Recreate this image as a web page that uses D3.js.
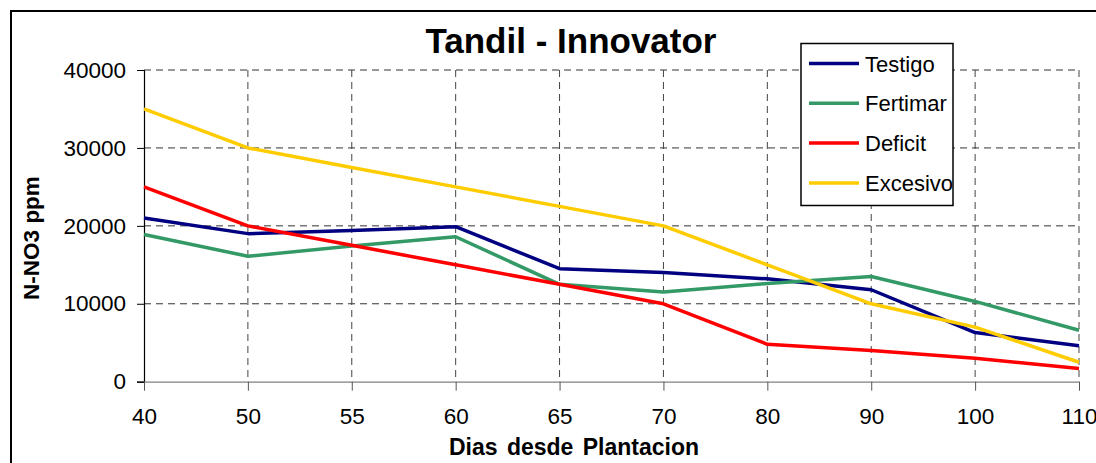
<!DOCTYPE html>
<html>
<head>
<meta charset="utf-8">
<script src="https://cdn.jsdelivr.net/npm/d3@7"></script>
<style>
  body { margin: 0; background: #fff; }
  svg text { font-family: Arial, "Liberation Sans", sans-serif; }
</style>
</head>
<body>
<div id="chart"></div>
<script>
// data
const dias = ['40', '50', '55', '60', '65', '70', '80', '90', '100', '110'];
const testigo = [21000, 19000, 19400, 19900, 14500, 14000, 13200, 11800, 6300, 4600];
const fertimar = [18900, 16100, 17400, 18600, 12500, 11500, 12600, 13500, 10300, 6600];
const deficit = [25000, 20000, 17500, 15000, 12500, 10000, 4800, 4000, 3000, 1700];
const excesivo = [35000, 30000, 27500, 25000, 22500, 20000, 15000, 10000, 7000, 2500];
const yTicks = [0, 10000, 20000, 30000, 40000];

const series = [
    { name: 'Testigo', values: testigo, color: '#000080' },
    { name: 'Fertimar', values: fertimar, color: '#339966' },
    { name: 'Deficit', values: deficit, color: '#ff0000' },
    { name: 'Excesivo', values: excesivo, color: '#ffcc00' }
];

const width = 1096, height = 463;
const svg = d3.select('#chart')
    .append('svg')
    .attr('width', width)
    .attr('height', height);

// outer chart frame (right/bottom edges fall outside the picture)
svg.append('rect')
    .attr('x', 11).attr('y', 11)
    .attr('width', 1100).attr('height', 470)
    .attr('fill', 'none')
    .attr('stroke', '#000')
    .attr('stroke-width', 2);

const xScale = d3.scalePoint()
    .domain(dias)
    .range([144, 1079]);

const yScale = d3.scaleLinear()
    .domain([0, 40000])
    .range([381.7, 70]);

// grid
svg.append('g')
    .selectAll('line')
    .data(yTicks.filter(d => d > 0))
    .enter()
    .append('line')
    .attr('x1', 144).attr('x2', 1079)
    .attr('y1', d => yScale(d)).attr('y2', d => yScale(d))
    .attr('stroke', '#333')
    .attr('stroke-dasharray', '7,5');

svg.append('g')
    .selectAll('line')
    .data(dias.slice(1))
    .enter()
    .append('line')
    .attr('x1', d => xScale(d)).attr('x2', d => xScale(d))
    .attr('y1', yScale(40000)).attr('y2', yScale(0))
    .attr('stroke', '#444')
    .attr('stroke-dasharray', '7,5');

// y axis
const yAxis = svg.append('g')
    .attr('transform', 'translate(144, 0)')
    .call(d3.axisLeft(yScale).tickValues(yTicks).tickSize(7).tickPadding(11).tickFormat(d3.format('d')));
yAxis.select('.domain').attr('stroke', '#000').attr('stroke-width', 1.2);
yAxis.selectAll('.tick line').attr('stroke', '#000');
yAxis.selectAll('text')
    .attr('font-size', 22.5)
    .attr('font-family', 'Arial, "Liberation Sans", sans-serif')
    .attr('fill', '#000');

// x axis
const xAxis = svg.append('g')
    .attr('transform', `translate(0, ${yScale(0)})`)
    .call(d3.axisBottom(xScale).tickSize(9).tickPadding(17).tickSizeOuter(0));
xAxis.select('.domain').attr('stroke', '#808080').attr('stroke-width', 1.2);
xAxis.selectAll('.tick line').attr('stroke', '#555');
xAxis.selectAll('text')
    .attr('font-size', 22.5)
    .attr('font-family', 'Arial, "Liberation Sans", sans-serif')
    .attr('fill', '#000');

// lines
const line = d3.line()
    .x((d, i) => xScale(dias[i]))
    .y(d => yScale(d));

svg.append('g')
    .selectAll('path')
    .data(series)
    .enter()
    .append('path')
    .attr('d', d => line(d.values))
    .attr('fill', 'none')
    .attr('stroke', d => d.color)
    .attr('stroke-width', 3.5)
    .attr('stroke-linejoin', 'round');

// titles
svg.append('text')
    .attr('x', 571).attr('y', 53)
    .attr('text-anchor', 'middle')
    .attr('font-size', 35)
    .attr('font-weight', 'bold')
    .text('Tandil - Innovator');

svg.append('text')
    .attr('x', 574).attr('y', 455)
    .attr('text-anchor', 'middle')
    .attr('font-size', 23)
    .attr('font-weight', 'bold')
    .attr('word-spacing', 3)
    .text('Dias desde Plantacion');

svg.append('text')
    .attr('transform', 'translate(39, 238) rotate(-90)')
    .attr('text-anchor', 'middle')
    .attr('font-size', 22.5)
    .attr('font-weight', 'bold')
    .text('N-NO3 ppm');

// legend
const legend = svg.append('g');
legend.append('rect')
    .attr('x', 801).attr('y', 43.5)
    .attr('width', 152).attr('height', 162)
    .attr('fill', '#fff')
    .attr('stroke', '#000')
    .attr('stroke-width', 1.5);

const items = legend.selectAll('g.item')
    .data(series)
    .enter()
    .append('g')
    .attr('class', 'item')
    .attr('transform', (d, i) => `translate(0, ${63.5 + i * 39.8})`);
items.append('line')
    .attr('x1', 809).attr('x2', 859)
    .attr('stroke', d => d.color)
    .attr('stroke-width', 3.5);
items.append('text')
    .attr('x', 865).attr('y', 8)
    .attr('font-size', 22)
    .text(d => d.name);
</script>
</body>
</html>
